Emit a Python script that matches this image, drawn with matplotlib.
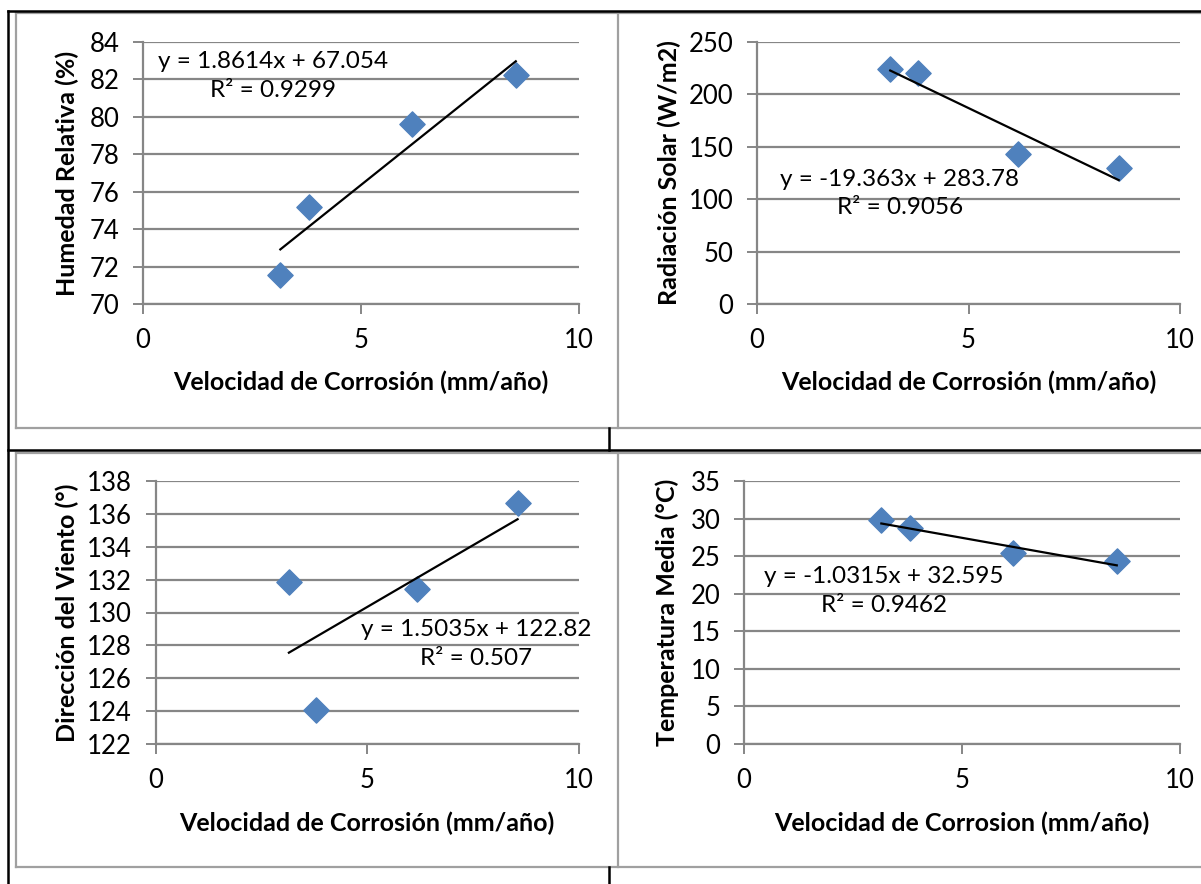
import matplotlib.pyplot as plt
from matplotlib.lines import Line2D

plt.rcParams['font.family'] = ['Lato', 'DejaVu Sans']

W, H = 1201, 884

# velocidad de corrosion (mm/año), same for every panel
vel = [3.15, 3.80, 6.17, 8.55]

humedad = [71.55, 75.2, 79.6, 82.25]
radiacion = [224.3, 220.1, 143.0, 130.0]
direccion = [131.85, 124.07, 131.4, 136.66]
temperatura = [29.79, 28.72, 25.38, 24.31]

# trendline coefficients shown in the labels
coef_hum = (1.8614, 67.054, 0.9299)
coef_rad = (-19.363, 283.78, 0.9056)
coef_dir = (1.5035, 122.82, 0.507)
coef_tem = (-1.0315, 32.595, 0.9462)

grid_col = '#868686'
marker_col = '#4F81BD'


def rect(left, top, right, bottom):
    return [left / W, 1 - bottom / H, (right - left) / W, (bottom - top) / H]


def fmt(v):
    s = ('%.4f' % v).rstrip('0').rstrip('.') if abs(v) < 10 else ('%.3f' % v).rstrip('0').rstrip('.')
    return s


def panel(box, xs, ys, coef, ylim, ystep, ylabel, xlabel, eq_pos, ylab_off):
    ax = fig.add_axes(rect(*box))
    ax.scatter(xs, ys, marker='D', s=165, color=marker_col, zorder=3, clip_on=False)
    m, b, r2 = coef
    x0, x1 = min(xs), max(xs)
    ax.plot([x0, x1], [m * x0 + b, m * x1 + b], color='black', lw=1.6, zorder=4)
    ax.set_xlim(0, 10)
    ax.set_ylim(*ylim)
    ax.set_xticks([0, 5, 10])
    yt = []
    v = ylim[0]
    while v <= ylim[1] + 1e-9:
        yt.append(v)
        v += ystep
    ax.set_yticks(yt)
    ax.yaxis.grid(True, color=grid_col, lw=1.6)
    ax.set_axisbelow(True)
    for s in ['top', 'right']:
        ax.spines[s].set_visible(False)
    for s in ['left', 'bottom']:
        ax.spines[s].set_color(grid_col)
        ax.spines[s].set_linewidth(1.6)
    ax.tick_params(axis='both', colors=grid_col, width=1.4, length=7, labelsize=18.5,
                   labelcolor='black', pad=10)
    ax.set_ylabel(ylabel, fontsize=18, fontweight='bold', va='center')
    ax.yaxis.set_label_coords(ylab_off, 0.5)
    ax.set_xlabel(xlabel, fontsize=18, fontweight='bold', va='center')
    ax.xaxis.set_label_coords(0.5, -0.30)
    sign = '+' if b >= 0 else '-'
    txt = 'y = %sx %s %s\nR² = %s' % (fmt(m), sign, fmt(abs(b)), fmt(r2))
    ax.text(eq_pos[0], eq_pos[1], txt, ha='center', va='center', multialignment='center',
            fontsize=17.5, linespacing=1.45)
    return ax


fig = plt.figure(figsize=(W / 100, H / 100), dpi=100)

# table borders and chart frames
def hline(y, x0, x1, col, lw):
    fig.add_artist(Line2D([x0 / W, x1 / W], [1 - y / H, 1 - y / H], color=col, lw=lw))


def vline(x, y0, y1, col, lw):
    fig.add_artist(Line2D([x / W, x / W], [1 - y0 / H, 1 - y1 / H], color=col, lw=lw))


frame_col = '#A0A0A0'
hline(13, 16, W, frame_col, 1.6)
hline(428, 16, W, frame_col, 1.6)
hline(453, 16, W, frame_col, 1.6)
hline(867, 16, W, frame_col, 1.6)
vline(16, 13, 428, frame_col, 1.6)
vline(16, 453, 867, frame_col, 1.6)
vline(618, 13, 428, frame_col, 1.6)
vline(618, 453, 867, frame_col, 1.6)

hline(11, 8, W, 'black', 1.8)
hline(450, 8, W, 'black', 1.8)
vline(8, 11, H, 'black', 1.8)
vline(609, 428, 450, 'black', 1.8)
vline(609, 867, H, 'black', 1.8)

xl = 'Velocidad de Corrosión (mm/año)'
panel((143, 42, 579, 304), vel, humedad, coef_hum, (70, 84), 2,
      'Humedad Relativa (%)', xl, (2.98, 82.18), -76 / 436)
panel((757, 42, 1180, 304), vel, radiacion, coef_rad, (0, 250), 50,
      'Radiación Solar (W/m2)', xl, (3.38, 105.4), -88 / 423)
panel((155.5, 481, 579, 744), vel, direccion, coef_dir, (122, 138), 2,
      'Dirección del Viento (°)', xl, (7.57, 128.08), -88 / 423.5)
panel((744, 481, 1180, 744), vel, temperatura, coef_tem, (0, 35), 5,
      'Temperatura Media (°C)', 'Velocidad de Corrosion (mm/año)', (3.21, 20.36), -77 / 436)

fig.savefig('out.png', dpi=100)
